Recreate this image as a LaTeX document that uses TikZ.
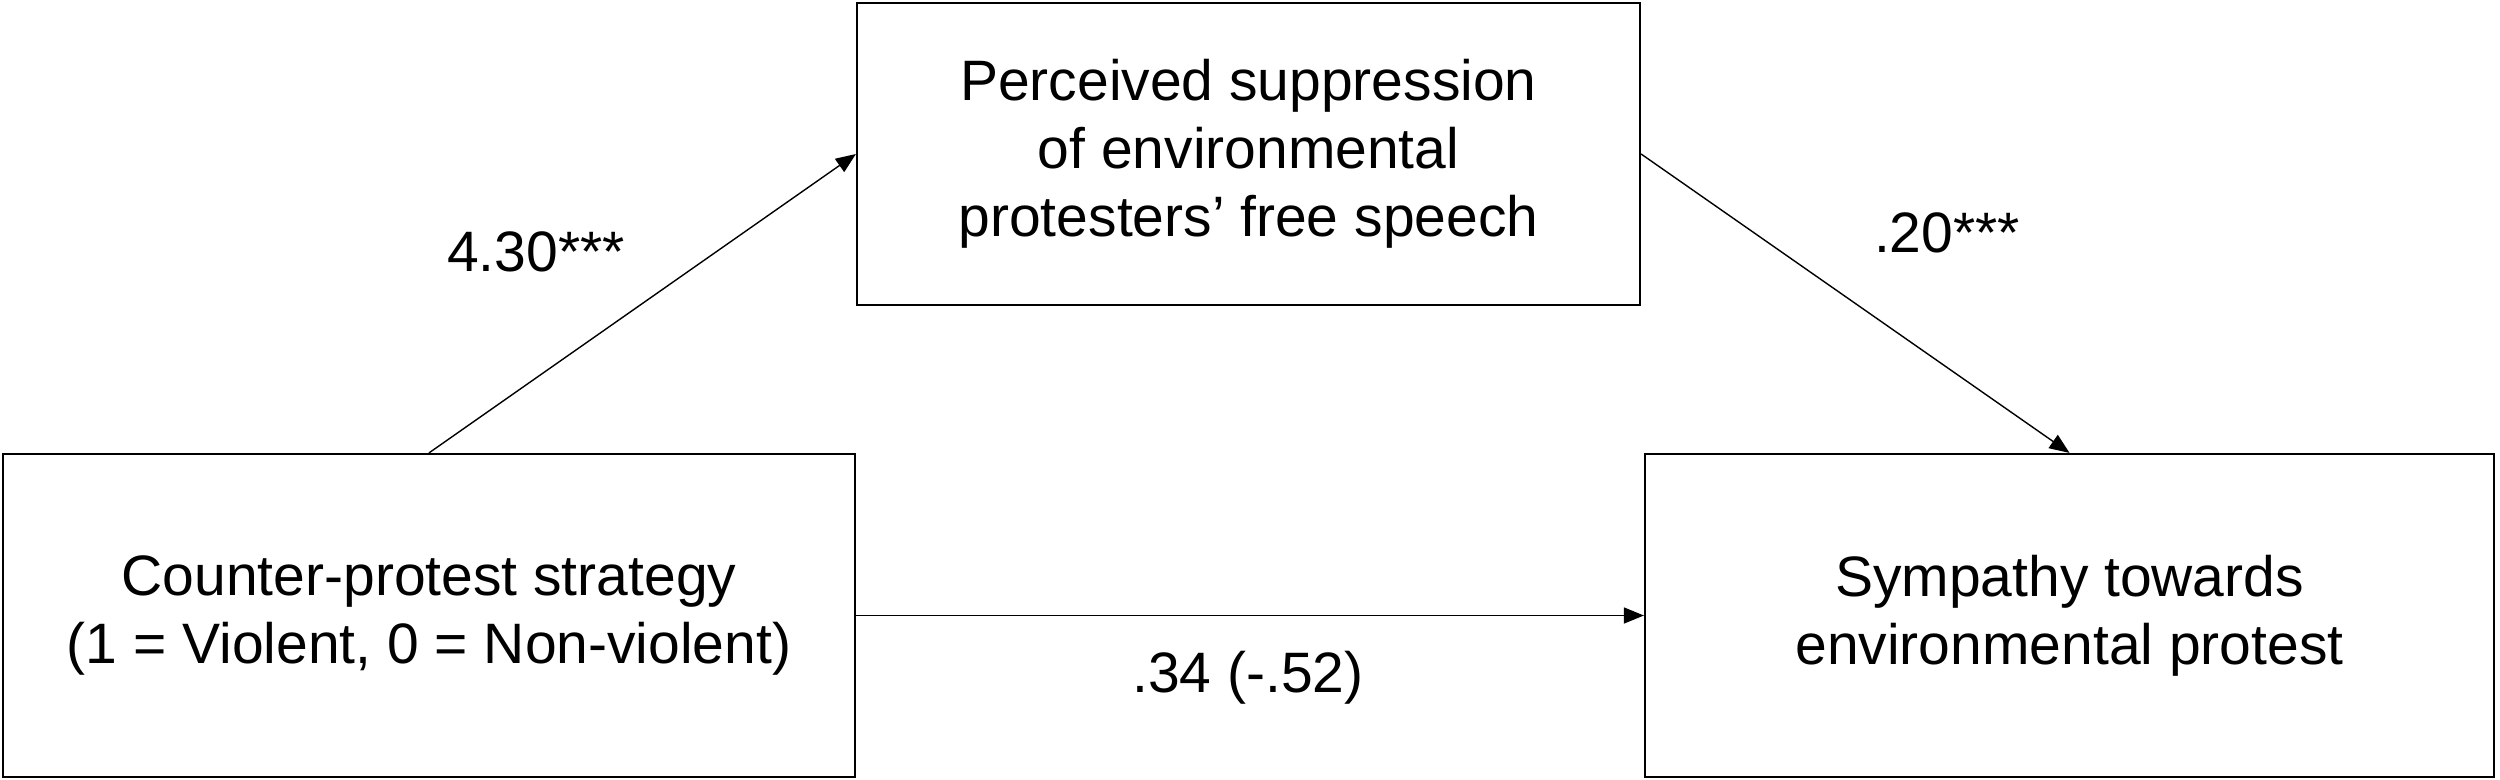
\documentclass[tikz,border=0pt]{standalone}
\usepackage{fontspec}
\setmainfont{Liberation Sans}
\usetikzlibrary{arrows.meta}
\begin{document}
\begin{tikzpicture}[x=1pt,y=1pt,
  boxnode/.style={draw=black, line width=2.2pt, align=center, inner sep=0pt,
    font=\fontsize{57pt}{68pt}\selectfont},
  pathline/.style={draw=black, line width=1.4pt, -{Triangle[length=20pt,width=16pt]}},
  coef/.style={font=\fontsize{57pt}{68pt}\selectfont, inner sep=0pt}]
\useasboundingbox (0,0) rectangle (2500,-779);
\fill[white] (0,0) rectangle (2500,-779);
\node[boxnode, minimum width=783pt, minimum height=302pt] (med) at (1248.5,-154)
  {Perceived suppression\\of environmental\\protesters’ free speech};
\node[boxnode, minimum width=852pt, minimum height=323pt] (iv) at (429,-615.5)
  {Counter-protest strategy\\(1 = Violent, 0 = Non-violent)};
\node[boxnode, minimum width=849pt, minimum height=323pt] (dv) at (2069.5,-615.5)
  {Sympathy towards\\environmental protest};
\draw[pathline] (iv.north) -- (med.west);
\draw[pathline] (med.east) -- (dv.north);
\draw[pathline] (iv.east) -- (dv.west);
\node[coef] (a) at (536,-252) {4.30***};
\node[coef] (b) at (1947,-233) {.20***};
\node[coef] (c) at (1248,-678) {.34 (-.52)};
\end{tikzpicture}
\end{document}
